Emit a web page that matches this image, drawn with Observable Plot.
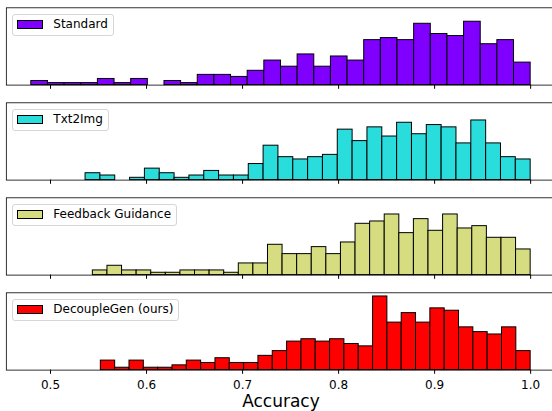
<!DOCTYPE html>
<html>
<head>
<meta charset="utf-8">
<script src="https://cdn.jsdelivr.net/npm/d3@7"></script>
<script src="https://cdn.jsdelivr.net/npm/@observablehq/plot@0.6"></script>
<style>
  body { margin: 0; background: #fff; font-family: "DejaVu Sans", sans-serif; }
  #wrap { position: relative; width: 552px; height: 411px; overflow: hidden; background: #fff; }
  .panel { position: absolute; left: 0; }
  .legend { position: absolute; left: 12.3px; height: 22px; box-sizing: border-box;
    border: 1px solid #d6d6d6; border-radius: 3px; background: rgba(255,255,255,0.8);
    font-size: 12px; line-height: 19px; padding-left: 40px; padding-right: 5px; color: #000; white-space: nowrap; }
  .legend .patch { position: absolute; left: 4px; top: 5px; width: 25.4px; height: 8.7px;
    border: 1px solid #000; box-sizing: border-box; }
</style>
</head>
<body>
<div id="wrap"></div>
<script>
// Series names and colours
const names = ["Standard", "Txt2Img", "Feedback Guidance", "DecoupleGen (ours)"];
const colors = ["#8000ff", "#2adddd", "#d5dd80", "#ff0000"];
// Histogram bin ranges (lowest edge, highest edge), 30 bins each
const binLo = [0.48, 0.5365, 0.5441, 0.5524];
const binHi = [1.0, 1.0, 1.0, 1.0];
// Counts per bin
const standard = [2,1,1,1,3,1,3,0,2,1,5,5,4,7,12,9,15,9,14,12,22,23,22,30,25,24,31,20,22,11];
const txt2img  = [3,2,0,1,5,3,1,2,4,2,2,7,15,10,9,10,11,22,17,23,19,25,20,24,23,16,26,16,10,9];
const feedback = [2,4,2,2,1,1,2,2,2,1,5,5,13,9,9,12,9,14,22,23,26,18,24,19,26,20,21,16,16,11];
const decouple = [4,1,4,1,1,2,4,3,5,3,3,6,8,12,13,12,13,11,10,31,20,24,20,26,25,18,16,15,18,8];
const xTicks = [0.5, 0.6, 0.7, 0.8, 0.9, 1.0];
const xLabel = "Accuracy";

const series = [standard, txt2img, feedback, decouple];

// density-normalised bins
const binned = series.map((counts, k) => {
  const n = counts.length, w = (binHi[k] - binLo[k]) / n, N = d3.sum(counts);
  return counts.map((c, i) => ({x1: binLo[k] + i * w, x2: binLo[k] + (i + 1) * w, y: c / (N * w)}));
});
const yMax = d3.max(binned.flat(), d => d.y) * 1.05;
const dataLo = d3.min(binLo), dataHi = d3.max(binHi), span = dataHi - dataLo;
const xDomain = [dataLo - 0.05 * span, dataHi + 0.05 * span];

const wrap = document.getElementById("wrap");
const plotH = 77.3;

binned.forEach((bins, k) => {
  const last = k === binned.length - 1;
  const height = last ? 126 : 95;
  const top = 7.3;
  const marks = [
    Plot.rectY(bins, {x1: "x1", x2: "x2", y: "y", fill: colors[k], stroke: "black", strokeWidth: 1, inset: 0}),
    Plot.frame({stroke: "black", strokeWidth: 0.8}),
    Plot.axisX({ticks: xTicks, tickSize: 4.2, tickPadding: 5.7,
      tickFormat: last ? d3.format(".1f") : () => ""})
  ];
  if (last) marks.push(Plot.text([xLabel], {frameAnchor: "bottom", dy: 36.5, lineAnchor: "bottom", fontSize: 17}));
  const chart = Plot.plot({
    width: 552, height,
    marginTop: top, marginBottom: height - top - plotH,
    marginLeft: 5.84, marginRight: -3.12,
    style: {fontFamily: "DejaVu Sans", fontSize: "12px", color: "black", background: "white"},
    x: {domain: xDomain, axis: null},
    y: {domain: [0, yMax], axis: null},
    marks
  });
  chart.classList.add("panel");
  chart.style.top = (95 * k) + "px";
  wrap.appendChild(chart);

  const leg = document.createElement("div");
  leg.className = "legend";
  leg.style.top = (95 * k + 14) + "px";
  const patch = document.createElement("span");
  patch.className = "patch";
  patch.style.background = colors[k];
  leg.appendChild(patch);
  leg.appendChild(document.createTextNode(names[k]));
  wrap.appendChild(leg);
});
</script>
</body>
</html>
